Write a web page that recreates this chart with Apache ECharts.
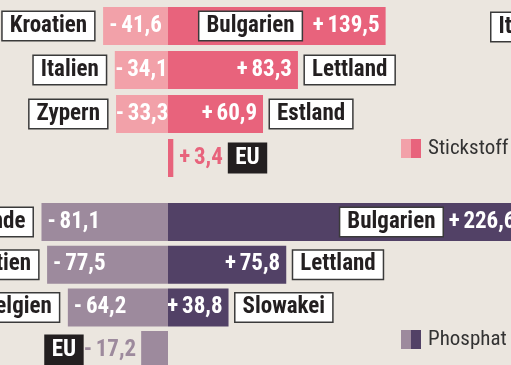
<!DOCTYPE html>
<html>
<head>
<meta charset="utf-8">
<script src="https://cdn.jsdelivr.net/npm/echarts@6/dist/echarts.min.js"></script>
<style>
  html, body { margin: 0; padding: 0; background: #ebe6df; overflow: hidden; width: 511px; height: 365px; }
  /* the drawing runs past the right and bottom edges of the page */
  #chart { width: 560px; height: 380px; }
</style>
</head>
<body>
<div id="chart"></div>
<script>
// Stickstoff (nitrogen) block
const nRows = ['r1', 'r2', 'r3', 'EU'];
const nNegNames = ['Kroatien', 'Italien', 'Zypern', null];
const nNegValues = [-41.6, -34.1, -33.3, null];
const nPosNames = ['Bulgarien', 'Lettland', 'Estland', 'EU'];
const nPosValues = [139.5, 83.3, 60.9, 3.4];

// Phosphat block
const pRows = ['r1', 'r2', 'r3', 'EU'];
const pNegNames = ['Niederlande', 'Kroatien', 'Belgien', 'EU'];
const pNegValues = [-81.1, -77.5, -64.2, -17.2];
const pPosNames = ['Bulgarien', 'Lettland', 'Slowakei', null];
const pPosValues = [226.6, 75.8, 38.8, null];

const legendNames = ['Stickstoff', 'Phosphat'];

const FONT = "'Roboto Condensed', 'Open Sans Condensed', sans-serif";
const C = {
  bg: '#ebe6df',
  nLight: '#f2a1a9', nDark: '#e8637c',
  pLight: '#9d8a9d', pDark: '#524166',
  ink: '#231f20'
};

function fmt(v) {
  const s = Math.abs(v).toFixed(1).replace('.', ',');
  return (v < 0 ? '-' : '+') + '\u2006' + s;
}

const nameBox = {
  show: true,
  fontFamily: FONT, fontWeight: 'bold', fontSize: 23,
  color: C.ink, backgroundColor: '#fff',
  borderColor: '#3a3a3a', borderWidth: 1.5,
  padding: [3, 7, 2, 7]
};
const euBox = Object.assign({}, nameBox, {
  color: '#fff', backgroundColor: C.ink, borderColor: C.ink, padding: [3, 6, 2, 6]
});
const valueLabel = {
  show: true, fontFamily: FONT, fontWeight: 'bold', fontSize: 23, color: '#fff'
};

function withLabels(values, overrides) {
  return values.map((v, i) => {
    if (v == null) return null;
    return overrides[i] ? { value: v, label: overrides[i] } : v;
  });
}

function block(gi, neg, pos, negNames, posNames, light, dark, opts) {
  const base = { type: 'bar', xAxisIndex: gi, yAxisIndex: gi, barWidth: 38, barGap: '-100%', silent: true, animation: false };
  return [
    Object.assign({}, base, {
      data: withLabels(neg, opts.negValueOv),
      itemStyle: { color: light },
      label: Object.assign({}, valueLabel, opts.negValuePos, { formatter: p => fmt(p.value) })
    }),
    Object.assign({}, base, {
      data: withLabels(pos, opts.posValueOv),
      itemStyle: { color: dark },
      label: Object.assign({}, valueLabel, { position: 'insideRight', distance: 6, formatter: p => fmt(p.value) })
    }),
    Object.assign({}, base, {
      data: withLabels(neg, opts.negNameOv),
      itemStyle: { color: 'transparent' },
      label: Object.assign({}, nameBox, { position: 'left', distance: 9, formatter: p => negNames[p.dataIndex] })
    }),
    Object.assign({}, base, {
      data: withLabels(pos, opts.posNameOv),
      itemStyle: { color: 'transparent' },
      label: Object.assign({}, nameBox, { position: 'right', distance: 7, formatter: p => posNames[p.dataIndex] })
    })
  ];
}

const series = [].concat(
  block(0, nNegValues, nPosValues, nNegNames, nPosNames, C.nLight, C.nDark, {
    negValuePos: { position: 'inside' },
    negValueOv: {},
    posValueOv: { 3: Object.assign({}, valueLabel, { position: 'right', distance: 6, color: C.nDark }) },
    negNameOv: {},
    posNameOv: {
      0: { position: 'insideRight', distance: 84 },
      3: Object.assign({}, euBox, { position: 'right', distance: 56 })
    }
  }),
  block(1, pNegValues, pPosValues, pNegNames, pPosNames, C.pLight, C.pDark, {
    negValuePos: { position: 'insideLeft', distance: 6 },
    negValueOv: { 3: Object.assign({}, valueLabel, { position: 'left', distance: 5, color: C.pLight }) },
    posValueOv: {},
    negNameOv: { 3: Object.assign({}, euBox, { position: 'left', distance: 59 }) },
    posNameOv: { 0: { position: 'insideRight', distance: 79 } }
  })
);

// value axis: zero at x=168, 1.56 px per unit
const X_MIN = -100, X_MAX = 240, PX = 1.56;
const gridLeft = 168 + X_MIN * PX;
const gridWidth = (X_MAX - X_MIN) * PX;

const xAxisBase = { type: 'value', min: X_MIN, max: X_MAX, show: false };
const yAxisBase = { type: 'category', inverse: true, show: false };

const chart = echarts.init(document.getElementById('chart'), null, { renderer: 'canvas' });
chart.setOption({
  backgroundColor: C.bg,
  animation: false,
  grid: [
    { left: gridLeft, top: 4, width: gridWidth, height: 176 },
    { left: gridLeft, top: 200.7, width: gridWidth, height: 170.7 }
  ],
  xAxis: [Object.assign({ gridIndex: 0 }, xAxisBase), Object.assign({ gridIndex: 1 }, xAxisBase)],
  yAxis: [
    Object.assign({ gridIndex: 0, data: nRows }, yAxisBase),
    Object.assign({ gridIndex: 1, data: pRows }, yAxisBase)
  ],
  series: series,
  graphic: [
    // neighbouring panel's first label, running off the right edge
    { type: 'text', left: 490, top: 11.5, silent: true,
      style: { text: 'Italien', font: 'bold 23px ' + FONT, fill: C.ink,
        backgroundColor: '#fff', borderColor: '#3a3a3a', borderWidth: 1.5, padding: [3, 7, 2, 7] } },
    // legend: Stickstoff
    { type: 'rect', shape: { x: 401, y: 139, width: 10, height: 19 }, style: { fill: C.nLight }, silent: true },
    { type: 'rect', shape: { x: 411, y: 139, width: 10, height: 19 }, style: { fill: C.nDark }, silent: true },
    { type: 'text', x: 428, y: 149, silent: true,
      style: { text: legendNames[0], font: '21px ' + FONT, fill: '#333', verticalAlign: 'middle' } },
    // legend: Phosphat
    { type: 'rect', shape: { x: 401, y: 330, width: 10, height: 19 }, style: { fill: C.pLight }, silent: true },
    { type: 'rect', shape: { x: 411, y: 330, width: 10, height: 19 }, style: { fill: C.pDark }, silent: true },
    { type: 'text', x: 428, y: 340, silent: true,
      style: { text: legendNames[1], font: '21px ' + FONT, fill: '#333', verticalAlign: 'middle' } }
  ]
});
</script>
</body>
</html>
